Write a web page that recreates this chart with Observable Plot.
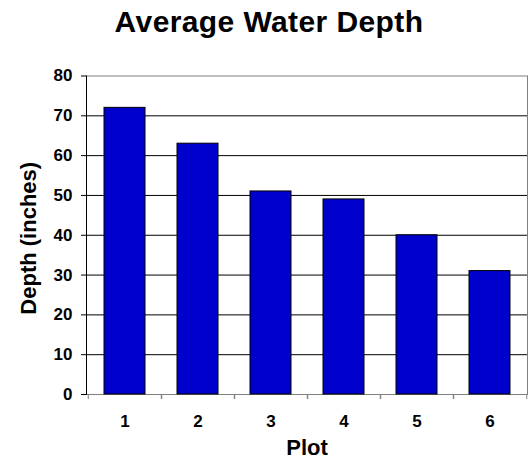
<!DOCTYPE html>
<html>
<head>
<meta charset="utf-8">
<script src="https://cdn.jsdelivr.net/npm/d3@7"></script>
<script src="https://cdn.jsdelivr.net/npm/@observablehq/plot@0.6"></script>
<style>
  html, body { margin: 0; padding: 0; background: white; }
  #title {
    width: 528px; height: 52px; box-sizing: border-box;
    padding-top: 5px; padding-left: 10px;
    font-family: "Liberation Sans", Arial, sans-serif; font-weight: bold;
    font-size: 30px; line-height: 34px; text-align: center; color: black;
    letter-spacing: 0.4px; white-space: nowrap;
  }
  svg { display: block; }
</style>
</head>
<body>
<div id="title"></div>
<div id="chart"></div>
<script>
const title = "Average Water Depth";
const xLabel = "Plot";
const yLabel = "Depth (inches)";
const categories = ["1", "2", "3", "4", "5", "6"];
const depths = [72, 63, 51, 49, 40, 31];
const yTicks = [0, 10, 20, 30, 40, 50, 60, 70, 80];

const data = categories.map((c, i) => ({plot: c, depth: depths[i]}));

document.getElementById("title").textContent = title;

const halfStep = 441 / categories.length / 2;

const chart = Plot.plot({
  width: 528,
  height: 407,
  marginLeft: 86,
  marginRight: 1,
  marginTop: 23.5,
  marginBottom: 65,
  style: {fontFamily: "'Liberation Sans', Arial, sans-serif", fontWeight: "bold", fontSize: "17px", background: "white", color: "black"},
  x: {domain: categories, paddingInner: 0.44, paddingOuter: 0.22, label: null},
  y: {domain: [0, 80], label: null},
  marks: [
    Plot.gridY(yTicks.slice(1, -1), {stroke: "black", strokeOpacity: 1}),
    Plot.frame({stroke: "#808080"}),
    Plot.barY(data, {x: "plot", y: "depth", fill: "#0000CC", stroke: "black", strokeWidth: 1}),
    Plot.frame({anchor: "left", stroke: "black"}),
    Plot.axisY({ticks: yTicks, tickSize: 5, tickPadding: 9, stroke: "black", label: null, fontSize: 17}),
    Plot.axisX({text: null, tickSize: 5, dx: -halfStep, stroke: "#808080", label: null}),
    Plot.axisX({text: null, tickSize: 5, dx: halfStep, stroke: "#808080", label: null}),
    Plot.axisX({tickSize: 0, tickPadding: 20, label: null, fontSize: 17}),
    Plot.text([yLabel], {frameAnchor: "left", textAnchor: "middle", lineAnchor: "middle", rotate: -90, dx: -58, dy: 3, fontSize: 22, fontWeight: "bold"}),
    Plot.text([xLabel], {frameAnchor: "bottom", textAnchor: "middle", lineAnchor: "bottom", dy: 60, fontSize: 22, fontWeight: "bold"})
  ]
});
document.getElementById("chart").appendChild(chart);
</script>
</body>
</html>
